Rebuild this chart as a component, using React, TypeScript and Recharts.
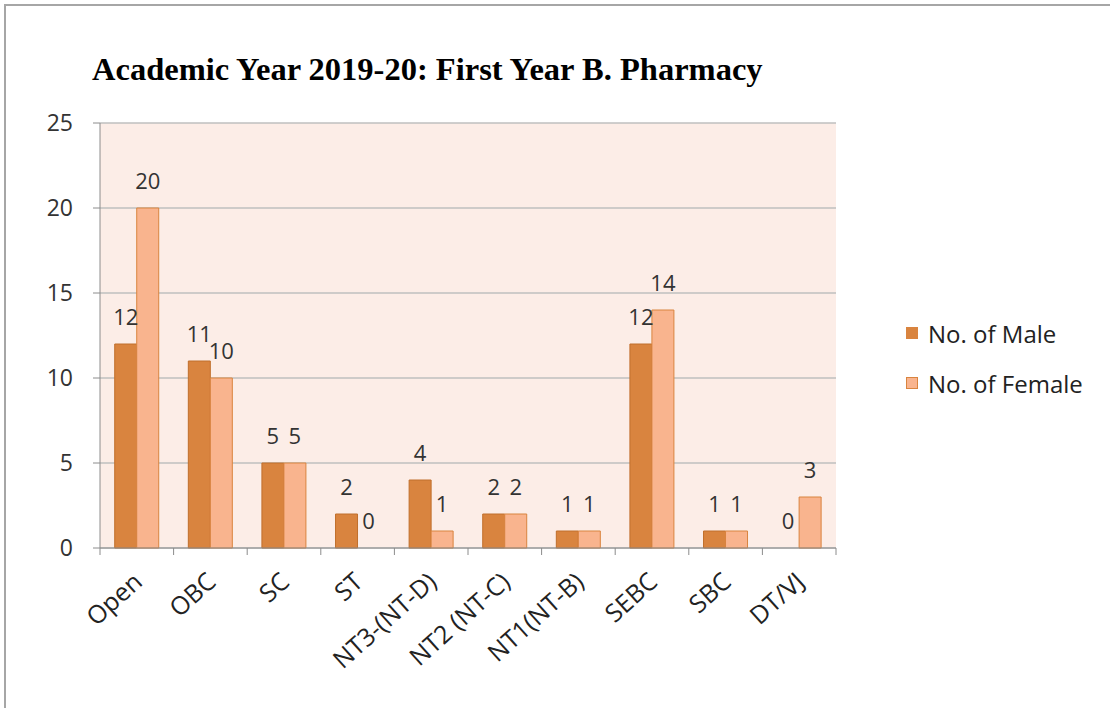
import { BarChart, Bar, XAxis, YAxis, CartesianGrid, LabelList, Cell } from 'recharts'

const categories = ['Open', 'OBC', 'SC', 'ST', 'NT3-(NT-D)', 'NT2 (NT-C)', 'NT1(NT-B)', 'SEBC', 'SBC', 'DT/VJ']
const maleCounts = [12, 11, 5, 2, 4, 2, 1, 12, 1, 0]
const femaleCounts = [20, 10, 5, 0, 1, 2, 1, 14, 1, 3]
const yTicks = [0, 5, 10, 15, 20, 25]
const seriesNames = ['No. of Male', 'No. of Female']

const data = categories.map((name, i) => ({ name, male: maleCounts[i], female: femaleCounts[i] }))

const MALE = '#D9843F'
const FEMALE = '#F9B48E'
const AXIS = '#8C8C8C'
const FONT = '"Open Sans", sans-serif'

const PLOT_LEFT = 100
const PLOT_RIGHT = 836
const BAND = (PLOT_RIGHT - PLOT_LEFT) / categories.length

// keep zero bars present (flat) so their "0" label still shows
const keepZero = (value: any) => (value === 0 ? 0.01 : 0)

function CategoryTick(props: any) {
  const { x, y, payload, index } = props
  const last = index === categories.length - 1
  return (
    <g>
      <line x1={x - BAND / 2} y1={y} x2={x - BAND / 2} y2={y + 7} stroke={AXIS} />
      {last && <line x1={x + BAND / 2} y1={y} x2={x + BAND / 2} y2={y + 7} stroke={AXIS} />}
      <text
        x={0}
        y={0}
        transform={`translate(${x + 7},${y + 36}) rotate(-42)`}
        textAnchor="end"
        fontSize={25}
        fontFamily={FONT}
        fill="#222"
      >
        {payload.value}
      </text>
    </g>
  )
}

export default function App() {
  return (
    <div style={{ position: 'fixed', left: 0, top: 0, width: 1110, height: 708, overflow: 'hidden', background: '#fff' }}>
      <div
        style={{
          position: 'absolute',
          left: 4,
          top: 4,
          width: 1200,
          height: 800,
          borderLeft: '2px solid #A6A6A6',
          borderTop: '2px solid #A6A6A6',
        }}
      />
      <div
        style={{
          position: 'absolute',
          left: 92,
          top: 50,
          fontFamily: '"Liberation Serif", "Times New Roman", serif',
          fontWeight: 'bold',
          fontSize: 32.5,
          lineHeight: '38px',
          color: '#000',
          whiteSpace: 'nowrap',
        }}
      >
        Academic Year 2019-20: First Year B. Pharmacy
      </div>
      <div style={{ position: 'absolute', left: 0, top: 0 }}>
        <BarChart
          width={1110}
          height={708}
          data={data}
          margin={{ top: 123, right: 1110 - PLOT_RIGHT, bottom: 50, left: 40 }}
          barCategoryGap="20%"
          barGap={0}
        >
          <CartesianGrid vertical={false} fill="#FCEDE7" stroke="#BFBFBF" strokeWidth={1.5} />
          <XAxis
            dataKey="name"
            interval={0}
            height={110}
            tickSize={0}
            tickMargin={0}
            tickLine={false}
            axisLine={{ stroke: AXIS }}
            tick={<CategoryTick />}
          />
          <YAxis
            width={60}
            domain={[0, 25]}
            ticks={yTicks}
            tickSize={7}
            tickMargin={20}
            axisLine={{ stroke: AXIS }}
            tickLine={{ stroke: AXIS }}
            tick={{ fontSize: 23, fontFamily: FONT, fill: '#333' }}
          />
          <Bar dataKey="male" name={seriesNames[0]} fill={MALE} stroke="#C06F2C" minPointSize={keepZero} isAnimationActive={false}>
            {maleCounts.map((v, i) => (
              <Cell key={`m-${i}`} stroke={v === 0 ? 'none' : '#C06F2C'} />
            ))}
            <LabelList dataKey="male" position="top" offset={19} fontSize={22} fontFamily={FONT} fill="#333" />
          </Bar>
          <Bar dataKey="female" name={seriesNames[1]} fill={FEMALE} stroke={MALE} minPointSize={keepZero} isAnimationActive={false}>
            {femaleCounts.map((v, i) => (
              <Cell key={`f-${i}`} stroke={v === 0 ? 'none' : MALE} />
            ))}
            <LabelList dataKey="female" position="top" offset={19} fontSize={22} fontFamily={FONT} fill="#333" />
          </Bar>
        </BarChart>
      </div>
      <div style={{ position: 'absolute', left: 906, top: 308, fontFamily: FONT, fontSize: 24, color: '#222' }}>
        {seriesNames.map((name, i) => (
          <div key={name} style={{ display: 'flex', alignItems: 'center', height: 50 }}>
            <span
              style={{
                width: 12,
                height: 12,
                background: i === 0 ? MALE : FEMALE,
                border: `1px solid ${MALE}`,
                boxSizing: 'border-box',
                marginRight: 10,
              }}
            />
            <span>{name}</span>
          </div>
        ))}
      </div>
    </div>
  )
}
